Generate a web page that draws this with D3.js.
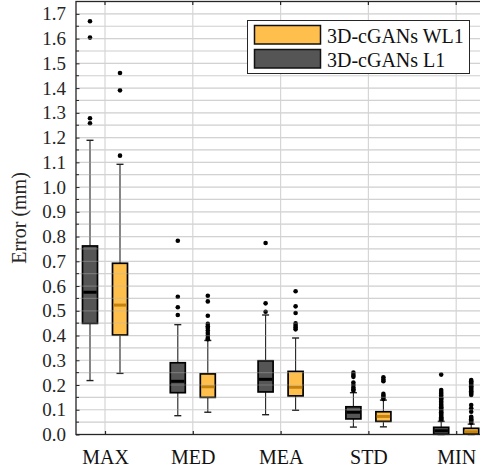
<!DOCTYPE html>
<html>
<head>
<meta charset="utf-8">
<script src="https://cdn.jsdelivr.net/npm/d3@7"></script>
<style>
  html, body { margin: 0; padding: 0; background: #fff; }
  svg { display: block; }
</style>
</head>
<body>
<svg id="chart" width="480" height="474"></svg>
<script>
// Error metrics per category
const categories = ["MAX", "MED", "MEA", "STD", "MIN"];
const seriesNames = ["3D-cGANs L1", "3D-cGANs WL1"];
const yTicks = [0.0, 0.1, 0.2, 0.3, 0.4, 0.5, 0.6, 0.7, 0.8, 0.9, 1.0, 1.1, 1.2, 1.3, 1.4, 1.5, 1.6, 1.7];

// 3D-cGANs L1 box statistics
const l1WhiskerLo = [0.218, 0.076, 0.080, 0.030, 0.000];
const l1Q1        = [0.449, 0.169, 0.172, 0.063, 0.001];
const l1Median    = [0.575, 0.215, 0.223, 0.090, 0.015];
const l1Q3        = [0.762, 0.290, 0.298, 0.112, 0.029];
const l1WhiskerHi = [1.189, 0.444, 0.483, 0.169, 0.053];
const l1Outliers = [
  [1.258, 1.278, 1.604, 1.670],
  [0.483, 0.514, 0.557, 0.783],
  [0.496, 0.530, 0.774],
  [0.177, 0.183, 0.190, 0.200, 0.210, 0.233, 0.240, 0.250],
  [0.058, 0.062, 0.066, 0.070, 0.075, 0.080, 0.085, 0.090, 0.095, 0.100, 0.105,
   0.110, 0.115, 0.120, 0.127, 0.133, 0.140, 0.145, 0.150, 0.158, 0.165, 0.172,
   0.180, 0.242]
];

// 3D-cGANs WL1 box statistics
const wl1WhiskerLo = [0.247, 0.090, 0.098, 0.031, 0.000];
const wl1Q1        = [0.402, 0.150, 0.156, 0.053, 0.002];
const wl1Median    = [0.523, 0.193, 0.191, 0.073, 0.011];
const wl1Q3        = [0.692, 0.245, 0.255, 0.092, 0.025];
const wl1WhiskerHi = [1.092, 0.380, 0.390, 0.139, 0.042];
const wl1Outliers = [
  [1.127, 1.391, 1.461],
  [0.385, 0.390, 0.400, 0.410, 0.420, 0.430, 0.437, 0.447, 0.480, 0.538, 0.561],
  [0.425, 0.432, 0.440, 0.449, 0.491, 0.518, 0.579],
  [0.143, 0.150, 0.157, 0.164, 0.215, 0.222, 0.231],
  [0.047, 0.052, 0.057, 0.062, 0.067, 0.072, 0.092, 0.106, 0.119, 0.160, 0.165,
   0.170, 0.175, 0.180, 0.185, 0.190, 0.195, 0.200, 0.205, 0.210, 0.215, 0.220]
];

const series = [
  { name: seriesNames[0], lo: l1WhiskerLo, q1: l1Q1, med: l1Median, q3: l1Q3, hi: l1WhiskerHi,
    out: l1Outliers, fill: "#555555", medColor: "#000000", offset: -1 },
  { name: seriesNames[1], lo: wl1WhiskerLo, q1: wl1Q1, med: wl1Median, q3: wl1Q3, hi: wl1WhiskerHi,
    out: wl1Outliers, fill: "#ffbf4d", medColor: "#c4820e", offset: 1 }
];

const FONT = "'Times New Roman', 'Liberation Serif', Tinos, 'DejaVu Serif', serif";

const svg = d3.select("#chart").style("font-family", FONT);
const plot = { left: 76, right: 485, top: 1.5, bottom: 434.5 };

const y = d3.scaleLinear().domain([0, 1.75]).range([plot.bottom, plot.top]);
const x = d3.scalePoint().domain(categories).range([105, 456.2]);
const boxW = 15, pairOffset = 15, capW = 7;

// grid values every 0.05
const gridVals = d3.range(0, 35).map(i => +(i * 0.05).toFixed(2)).filter(v => v > 0);

// vertical grid under the boxes
const gUnder = svg.append("g");
gUnder.selectAll("line.vgrid").data(categories).join("line")
  .attr("x1", d => x(d)).attr("x2", d => x(d))
  .attr("y1", plot.top).attr("y2", plot.bottom)
  .attr("stroke", "#d6d6d6").attr("stroke-width", 1.2);
gUnder.selectAll("line.hgrid").data(gridVals).join("line")
  .attr("x1", plot.left).attr("x2", plot.right)
  .attr("y1", d => y(d)).attr("y2", d => y(d))
  .attr("stroke", "#e2e2e2").attr("stroke-width", 1.2);

// boxes
const gBoxes = svg.append("g");
series.forEach(s => {
  const cx = c => x(c) + s.offset * pairOffset;
  const g = gBoxes.append("g");
  const idx = categories.map((c, i) => i);
  // whiskers
  g.selectAll("line.wlo").data(idx).join("line")
    .attr("x1", i => cx(categories[i])).attr("x2", i => cx(categories[i]))
    .attr("y1", i => y(s.lo[i])).attr("y2", i => y(s.q1[i]))
    .attr("stroke", "#222").attr("stroke-width", 1.1);
  g.selectAll("line.whi").data(idx).join("line")
    .attr("x1", i => cx(categories[i])).attr("x2", i => cx(categories[i]))
    .attr("y1", i => y(s.hi[i])).attr("y2", i => y(s.q3[i]))
    .attr("stroke", "#222").attr("stroke-width", 1.1);
  // caps
  ["lo", "hi"].forEach(k => {
    g.selectAll("line.cap" + k).data(idx).join("line")
      .attr("x1", i => cx(categories[i]) - capW / 2).attr("x2", i => cx(categories[i]) + capW / 2)
      .attr("y1", i => y(s[k][i])).attr("y2", i => y(s[k][i]))
      .attr("stroke", "#222").attr("stroke-width", 1.4);
  });
  // box body
  g.selectAll("rect").data(idx).join("rect")
    .attr("x", i => cx(categories[i]) - boxW / 2)
    .attr("width", boxW)
    .attr("y", i => y(s.q3[i]))
    .attr("height", i => y(s.q1[i]) - y(s.q3[i]))
    .attr("fill", s.fill).attr("stroke", "#000").attr("stroke-width", 1.7);
  // median
  g.selectAll("line.med").data(idx).join("line")
    .attr("x1", i => cx(categories[i]) - boxW / 2 + 0.8).attr("x2", i => cx(categories[i]) + boxW / 2 - 0.8)
    .attr("y1", i => y(s.med[i])).attr("y2", i => y(s.med[i]))
    .attr("stroke", s.medColor).attr("stroke-width", 3);
  // outliers
  const pts = [];
  s.out.forEach((arr, i) => arr.forEach(v => pts.push({ c: categories[i], v })));
  g.selectAll("circle").data(pts).join("circle")
    .attr("cx", d => cx(d.c)).attr("cy", d => y(d.v)).attr("r", 2.3)
    .attr("fill", "#000");
});

// translucent grid drawn over the boxes
const gOver = svg.append("g").attr("opacity", 0.35);
gOver.selectAll("line").data(gridVals).join("line")
  .attr("x1", plot.left).attr("x2", plot.right)
  .attr("y1", d => y(d)).attr("y2", d => y(d))
  .attr("stroke", "#b7b7b7").attr("stroke-width", 1.2);

// frame
svg.append("rect")
  .attr("x", plot.left).attr("y", plot.top)
  .attr("width", plot.right - plot.left).attr("height", plot.bottom - plot.top)
  .attr("fill", "none").attr("stroke", "#262626").attr("stroke-width", 1.3);

// left axis with inward ticks
const yAxis = d3.axisLeft(y).tickValues(yTicks).tickFormat(d3.format(".1f"))
  .tickSizeInner(-3.5).tickSizeOuter(0).tickPadding(10);
const ga = svg.append("g").attr("transform", `translate(${plot.left},0)`).call(yAxis);
ga.attr("font-family", null);
ga.select(".domain").remove();
ga.selectAll(".tick line").attr("stroke", "#262626").attr("stroke-width", 1);
ga.selectAll(".tick text").attr("fill", "#262626")
  .style("font-family", FONT).style("font-size", "19px");
// minor ticks
svg.append("g").selectAll("line").data(gridVals.filter(v => Math.round(v * 100) % 10 !== 0)).join("line")
  .attr("x1", plot.left).attr("x2", plot.left + 3)
  .attr("y1", d => y(d)).attr("y2", d => y(d))
  .attr("stroke", "#262626").attr("stroke-width", 1);

// bottom axis
const xAxis = d3.axisBottom(x).tickSizeInner(-3.5).tickSizeOuter(0).tickPadding(15);
const gx = svg.append("g").attr("transform", `translate(0,${plot.bottom})`).call(xAxis);
gx.attr("font-family", null);
gx.select(".domain").remove();
gx.selectAll(".tick line").attr("stroke", "#262626").attr("stroke-width", 1.2);
gx.selectAll(".tick text").attr("fill", "#111")
  .style("font-family", FONT).style("font-size", "20px");
// top ticks
svg.append("g").selectAll("line").data(categories).join("line")
  .attr("x1", d => x(d)).attr("x2", d => x(d))
  .attr("y1", plot.top).attr("y2", plot.top + 3.5)
  .attr("stroke", "#262626").attr("stroke-width", 1.2);

// y axis title
svg.append("text")
  .attr("transform", `translate(26,${(plot.top + plot.bottom) / 2}) rotate(-90)`)
  .attr("text-anchor", "middle")
  .style("font-family", FONT).style("font-size", "20px").attr("fill", "#262626")
  .text("Error (mm)");

// legend
const legend = svg.append("g");
legend.append("rect").attr("x", 247.5).attr("y", 20.5).attr("width", 222).attr("height", 53)
  .attr("fill", "#fff").attr("stroke", "#262626").attr("stroke-width", 1);
const legendItems = [series[1], series[0]];
legend.selectAll("rect.sw").data(legendItems).join("rect")
  .attr("x", 254.5).attr("y", (d, i) => 25.5 + i * 24).attr("width", 66).attr("height", 18.5)
  .attr("fill", d => d.fill).attr("stroke", "#111").attr("stroke-width", 1.5);
legend.selectAll("text").data(legendItems).join("text")
  .attr("x", 327).attr("y", (d, i) => 43 + i * 24)
  .style("font-family", FONT).style("font-size", "20px").attr("fill", "#111")
  .text(d => d.name);
</script>
</body>
</html>
